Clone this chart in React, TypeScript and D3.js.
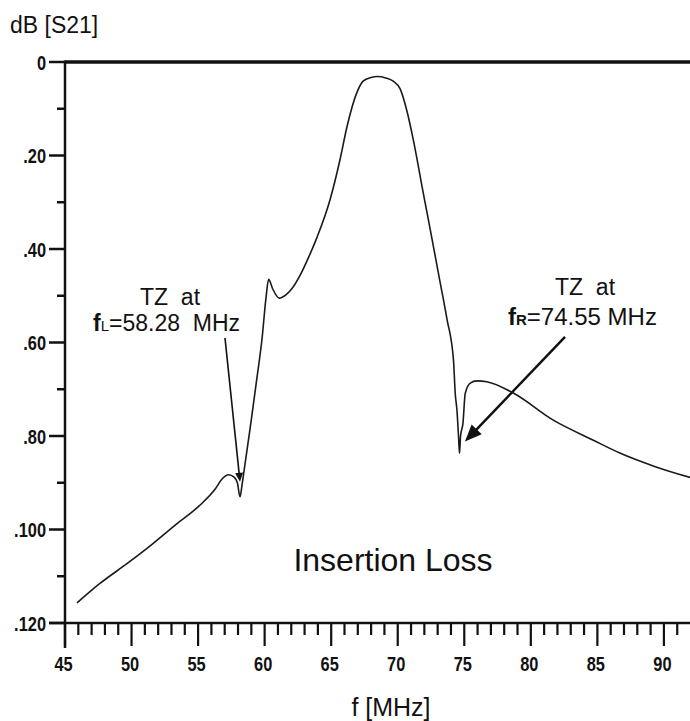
import React from "react";
import * as d3 from "d3";

// ---- data ----
const freqMHz = [
  45.9, 47.6, 49.8, 51.4, 53.3, 55.1, 56.3, 56.8, 57.3, 57.7, 57.95, 58.15, 58.3, 58.55,
  59.0, 59.4, 59.8, 60.1, 60.3, 60.6, 61.1, 61.6, 62.1, 62.67, 63.3, 63.95, 64.92, 65.67,
  66.2, 66.95, 67.4, 68.0, 68.46, 69.1, 69.66, 70.19, 70.71, 71.16, 71.91, 72.44, 73.19,
  73.7, 74.19, 74.32, 74.45, 74.57, 74.64, 74.72, 74.9, 75.07, 75.45, 75.95, 76.7, 78.68,
  81.69, 84.7, 86.73, 89.3, 92.0,
];
const s21dB = [
  -115.7, -111.6, -107.0, -103.5, -99.0, -94.9, -91.3, -89.2, -88.3, -88.8, -90.0, -93.0, -90.5, -85.5,
  -76.5, -68.0, -59.3, -50.5, -46.5, -48.5, -50.5, -49.8, -48.3, -45.6, -41.8, -37.4, -29.4, -20.8,
  -13.7, -6.4, -4.1, -3.3, -3.1, -3.4, -4.1, -5.8, -10.7, -16.5, -27.9, -35.8, -47.2,
  -55.0, -63.8, -70.9, -74.5, -80.2, -83.7, -80.0, -77.3, -70.9, -68.7, -68.2, -68.4, -70.8,
  -76.6, -80.9, -83.7, -86.5, -88.9,
];

const xTickValues = [45, 50, 55, 60, 65, 70, 75, 80, 85, 90];
const xTickLabels = ["45", "50", "55", "60", "65", "70", "75", "80", "85", "90"];
const yTickValues = [0, -20, -40, -60, -80, -100, -120];
const yTickLabels = ["0", ".20", ".40", ".60", ".80", ".100", ".120"];

// annotation anchors (data coordinates): [freq, dB]
const leftArrowFrom = [57.02, -59.0];
const leftArrowTo = [58.15, -89.8];
const rightArrowFrom = [82.57, -58.8];
const rightArrowTo = [75.05, -81.2];

const W = 690;
const H = 721;

export default function App() {
  const x = d3.scaleLinear().domain([45, 91.96]).range([65, 690]);
  const y = d3.scaleLinear().domain([0, -120]).range([62, 623]);

  const pts: [number, number][] = freqMHz.map((f, i) => [f, s21dB[i]]);
  const line = d3
    .line<[number, number]>()
    .x((d) => x(d[0]))
    .y((d) => y(d[1]))
    .curve(d3.curveMonotoneX);

  const minorX = d3.range(45, 92, 1);
  const minorY = d3.range(0, -121, -10);

  const arrowHead = (from: number[], to: number[], len: number, half: number) => {
    const x1 = x(from[0]), y1 = y(from[1]), x2 = x(to[0]), y2 = y(to[1]);
    const dx = x2 - x1, dy = y2 - y1;
    const L = Math.hypot(dx, dy);
    const ux = dx / L, uy = dy / L;
    const bx = x2 - ux * len, by = y2 - uy * len;
    const px = -uy, py = ux;
    return `${x2},${y2} ${bx + px * half},${by + py * half} ${bx - px * half},${by - py * half}`;
  };
  const shaft = (from: number[], to: number[], back: number) => {
    const x1 = x(from[0]), y1 = y(from[1]), x2 = x(to[0]), y2 = y(to[1]);
    const dx = x2 - x1, dy = y2 - y1;
    const L = Math.hypot(dx, dy);
    return { x1, y1, x2: x2 - (dx / L) * back, y2: y2 - (dy / L) * back };
  };
  const ls = shaft(leftArrowFrom, leftArrowTo, 4);
  const rs = shaft(rightArrowFrom, rightArrowTo, 10);

  const tickFont = {
    fontFamily: "'Liberation Sans', Arial, sans-serif",
    fontWeight: 700,
    fontSize: 21,
  } as const;
  const labelFont = "'Liberation Sans', Arial, sans-serif";

  return (
    <svg
      width={W}
      height={H}
      viewBox={`0 0 ${W} ${H}`}
      style={{ position: "absolute", left: 0, top: 0, background: "#fff" }}
    >
      <rect width={W} height={H} fill="#fff" />

      {/* y axis title */}
      <text x={10} y={33} fontFamily={labelFont} fontSize={23} fill="#111">
        dB [S21]
      </text>

      {/* frame lines */}
      <line x1={x(45)} x2={W} y1={y(0)} y2={y(0)} stroke="#111" strokeWidth={3.5} />
      <line x1={x(45)} x2={x(45)} y1={y(0) - 1.5} y2={648} stroke="#111" strokeWidth={2.5} />
      <line x1={49} x2={W} y1={y(-120)} y2={y(-120)} stroke="#111" strokeWidth={2.5} />

      {/* y ticks */}
      {minorY.map((v) => {
        const major = v % 20 === 0;
        return (
          <line
            key={"yt" + v}
            x1={major ? 49 : 57}
            x2={x(45)}
            y1={y(v)}
            y2={y(v)}
            stroke="#111"
            strokeWidth={2.5}
          />
        );
      })}
      {yTickValues.map((v, i) => (
        <text
          key={"yl" + v}
          transform={`translate(46, ${y(v) + 7.5}) scale(0.78, 1)`}
          textAnchor="end"
          {...tickFont}
          fill="#111"
        >
          {yTickLabels[i]}
        </text>
      ))}

      {/* x ticks */}
      {minorX.map((v) => {
        const major = v % 5 === 0;
        return (
          <line
            key={"xt" + v}
            x1={x(v)}
            x2={x(v)}
            y1={y(-120)}
            y2={major ? 646 : 635}
            stroke="#111"
            strokeWidth={2.2}
          />
        );
      })}
      {xTickValues.map((v, i) => (
        <text
          key={"xl" + v}
          transform={`translate(${x(v) - 1.5}, 671) scale(0.78, 1)`}
          textAnchor="middle"
          {...tickFont}
          fill="#111"
        >
          {xTickLabels[i]}
        </text>
      ))}

      {/* x axis title */}
      <text x={391} y={716} textAnchor="middle" fontFamily={labelFont} fontSize={25} fill="#111">
        f [MHz]
      </text>

      {/* curve */}
      <path d={line(pts) ?? ""} fill="none" stroke="#1a1a1a" strokeWidth={1.6} strokeLinejoin="round" />

      {/* left annotation */}
      <text x={170} y={305} textAnchor="middle" fontFamily={labelFont} fontSize={23} fill="#111">
        TZ{"\u00a0\u00a0"}at
      </text>
      <text x={93} y={331} fontFamily={labelFont} fontSize={23} fill="#111">
        <tspan fontWeight={700}>f</tspan>
        <tspan fontSize={15}>L</tspan>
        <tspan>=58.28{"\u00a0\u00a0"}MHz</tspan>
      </text>
      <line {...ls} stroke="#111" strokeWidth={1.6} />
      <polygon points={arrowHead(leftArrowFrom, leftArrowTo, 9, 4)} fill="#111" />

      {/* right annotation */}
      <text x={585} y={295} textAnchor="middle" fontFamily={labelFont} fontSize={23} fill="#111">
        TZ{"\u00a0\u00a0"}at
      </text>
      <text x={508} y={325} fontFamily={labelFont} fontSize={24} fill="#111">
        <tspan fontWeight={700}>f</tspan>
        <tspan fontSize={15} fontWeight={700}>R</tspan>
        <tspan>=74.55 MHz</tspan>
      </text>
      <line {...rs} stroke="#111" strokeWidth={2.5} />
      <polygon points={arrowHead(rightArrowFrom, rightArrowTo, 17, 7)} fill="#111" />

      {/* center label */}
      <text x={393} y={571} textAnchor="middle" fontFamily={labelFont} fontSize={32} fill="#111">
        Insertion Loss
      </text>
    </svg>
  );
}
